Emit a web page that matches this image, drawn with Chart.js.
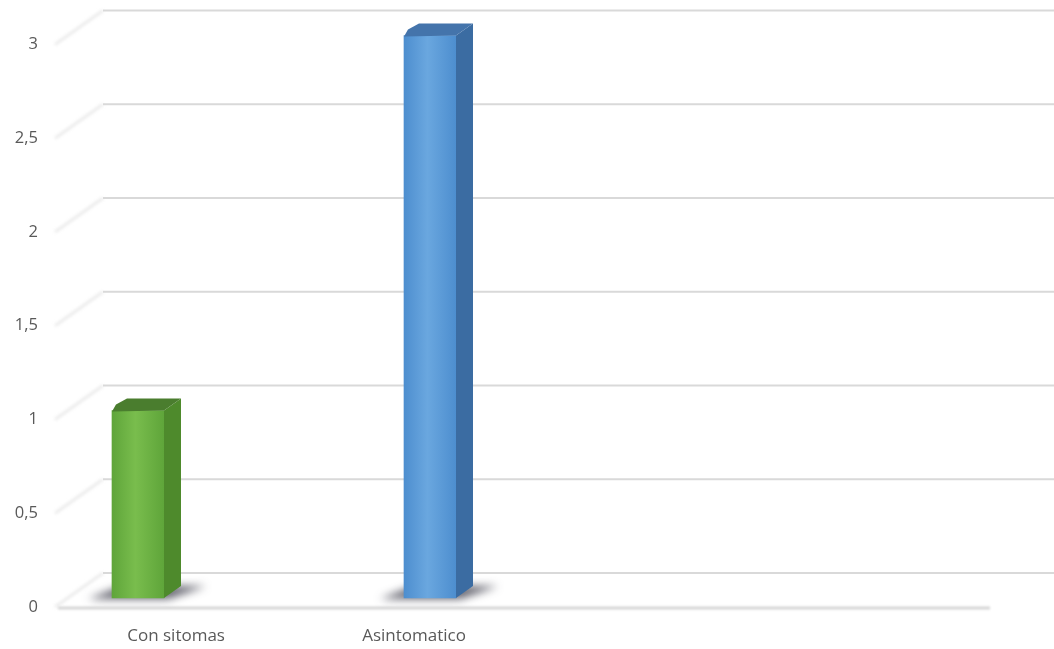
<!DOCTYPE html>
<html>
<head>
<meta charset="utf-8">
<script src="https://cdn.jsdelivr.net/npm/chart.js@4.4.1/dist/chart.umd.min.js"></script>
<style>
  html, body { margin: 0; padding: 0; background: #fff; }
  #wrap { width: 1054px; height: 649px; position: relative; }
</style>
</head>
<body>
<div id="wrap"><canvas id="chart"></canvas></div>
<script>
const categories = ['Con sitomas', 'Asintomatico'];
const values = [1, 3];
const yTicks = [0, 0.5, 1, 1.5, 2, 2.5, 3];

// face colours per bar: [front dark, front light, side, top]
const barFaces = [
  ['#5fa53a', '#79bd4d', '#4e8a2c', '#4a7d2e'],
  ['#4d8ecf', '#6aa7df', '#3b6ca2', '#4474ab']
];

const depth = { x: 17, y: 12 };   // bar extrusion
const wall = { x: 45, y: 34 };    // floor / wall depth
const BAR_W = 52;

function frontFill(c) {
  const chart = c.chart;
  const f = barFaces[c.dataIndex];
  if (!chart.chartArea) return f[0];
  const cx = chart.scales.x.getPixelForValue(c.dataIndex);
  const g = chart.ctx.createLinearGradient(cx - BAR_W / 2, 0, cx + BAR_W / 2, 0);
  g.addColorStop(0, f[0]);
  g.addColorStop(0.45, f[1]);
  g.addColorStop(1, f[0]);
  return g;
}

const box3d = {
  id: 'box3d',
  beforeDatasetsDraw(chart) {
    const { ctx, scales: { y } } = chart;
    const left = 58;
    const right = chart.width;
    ctx.save();
    // back wall gridlines and the faint side-wall diagonals
    yTicks.forEach(v => {
      const py = y.getPixelForValue(v);
      const front = py + 9;
      const back = front - wall.y;
      ctx.filter = 'blur(1.5px)';
      ctx.strokeStyle = '#ececec';
      ctx.lineWidth = 3;
      ctx.beginPath();
      ctx.moveTo(left - 3, front);
      ctx.lineTo(left + wall.x, back);
      ctx.stroke();
      ctx.filter = 'blur(0.6px)';
      ctx.strokeStyle = '#d9d9d9';
      ctx.lineWidth = 2;
      ctx.beginPath();
      ctx.moveTo(left + wall.x, back);
      ctx.lineTo(right, back);
      ctx.stroke();
    });
    // floor front edge
    const fy = y.getPixelForValue(0) + 10;
    ctx.filter = 'blur(0.8px)';
    ctx.strokeStyle = '#d6d6d6';
    ctx.lineWidth = 3;
    ctx.beginPath();
    ctx.moveTo(left, fy);
    ctx.lineTo(990, fy);
    ctx.stroke();

    // soft shadows under the bars
    const meta = chart.getDatasetMeta(0);
    meta.data.forEach(bar => {
      const x0 = bar.x - bar.width / 2, x1 = bar.x + bar.width / 2;
      const b = bar.base;
      ctx.filter = 'blur(4px)';
      ctx.fillStyle = 'rgba(45,45,60,0.75)';
      ctx.beginPath();
      ctx.moveTo(x0 - 24, b + 1);
      ctx.lineTo(x1 + 4, b + 1);
      ctx.lineTo(x1 + 42, b - 12);
      ctx.lineTo(x0 + 10, b - 12);
      ctx.closePath();
      ctx.fill();
    });
    ctx.restore();
  },
  afterDatasetsDraw(chart) {
    const { ctx } = chart;
    const meta = chart.getDatasetMeta(0);
    ctx.save();
    meta.data.forEach((bar, i) => {
      const f = barFaces[i];
      const x0 = bar.x - bar.width / 2, x1 = bar.x + bar.width / 2;
      const top = bar.y, b = bar.base;
      // side face
      ctx.fillStyle = f[2];
      ctx.beginPath();
      ctx.moveTo(x1, top);
      ctx.lineTo(x1 + depth.x, top - depth.y);
      ctx.lineTo(x1 + depth.x, b - depth.y);
      ctx.lineTo(x1, b);
      ctx.closePath();
      ctx.fill();
      // top face with a bevelled corner
      ctx.fillStyle = f[3];
      ctx.beginPath();
      ctx.moveTo(x0, top + 1);
      ctx.lineTo(x0 + 4, top - 6);
      ctx.lineTo(x0 + depth.x - 2, top - depth.y);
      ctx.lineTo(x1 + depth.x, top - depth.y);
      ctx.lineTo(x1, top);
      ctx.closePath();
      ctx.fill();
    });
    ctx.restore();
  }
};

new Chart(document.getElementById('chart'), {
  type: 'bar',
  data: {
    labels: categories,
    datasets: [{
      data: values,
      backgroundColor: frontFill,
      borderWidth: 0,
      barThickness: BAR_W,
      clip: false
    }]
  },
  options: {
    responsive: true,
    maintainAspectRatio: false,
    animation: false,
    layout: { padding: { top: 35.5, right: 624, left: 0, bottom: 0 } },
    plugins: { legend: { display: false }, tooltip: { enabled: false } },
    scales: {
      x: { display: false, offset: false },
      // category labels sit on their own axis, shifted by the floor perspective
      x2: {
        type: 'linear',
        position: 'bottom',
        offset: false,
        min: -0.16,
        max: 1.067,
        grid: { display: false, drawTicks: false },
        border: { display: false },
        afterBuildTicks: axis => { axis.ticks = categories.map((_, i) => ({ value: i })); },
        afterFit: axis => {
          axis.height = 51;
          axis.paddingLeft = 0;
          axis.paddingRight = 0;
        },
        ticks: {
          padding: 28,
          maxRotation: 0,
          color: '#595959',
          font: { family: 'Open Sans', size: 17 },
          callback: v => categories[v]
        }
      },
      y: {
        min: 0,
        max: 3,
        grid: { display: false, drawTicks: false },
        border: { display: false },
        afterBuildTicks: axis => { axis.ticks = yTicks.map(v => ({ value: v })); },
        afterFit: axis => {
          axis.width = 138;
          axis.paddingTop = 0;
          axis.paddingBottom = 0;
        },
        ticks: {
          padding: 100,
          labelOffset: 9,
          color: '#595959',
          font: { family: 'Open Sans', size: 16.5 },
          callback: v => String(v).replace('.', ',')
        }
      }
    }
  },
  plugins: [box3d]
});
</script>
</body>
</html>
